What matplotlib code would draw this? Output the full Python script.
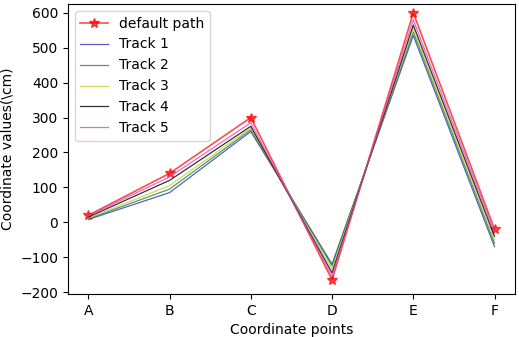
import matplotlib
matplotlib.use("Agg")
import matplotlib.pyplot as plt

points = ["A", "B", "C", "D", "E", "F"]
default_path = [20, 140, 300, -165, 600, -20]
track1 = [8, 85, 260, -120, 535, -70]
track2 = [10, 95, 265, -125, 545, -60]
track3 = [12, 105, 270, -135, 555, -50]
track4 = [15, 120, 275, -145, 565, -40]
track5 = [18, 130, 285, -155, 580, -30]

fig = plt.figure(figsize=(5.19, 3.37), dpi=100)
ax = fig.add_axes([0.131, 0.128, 0.861, 0.86])
x = list(range(len(points)))
ax.plot(x, default_path, color="red", marker="*", markersize=7, lw=1.2, alpha=0.7, label="default path")
ax.plot(x, track1, color="#3333bb", lw=0.9, alpha=0.8, label="Track 1")
ax.plot(x, track2, color="#228833", lw=0.9, alpha=0.8, label="Track 2")
ax.plot(x, track3, color="#cccc33", lw=0.9, alpha=0.8, label="Track 3")
ax.plot(x, track4, color="black", lw=0.9, alpha=0.8, label="Track 4")
ax.plot(x, track5, color="#dd44cc", lw=0.9, alpha=0.8, label="Track 5")
ax.set_xticks(x)
ax.set_xticklabels(points)
ax.set_xlim(-0.25, 5.25)
ax.set_ylim(-205, 625)
ax.set_yticks([-200, -100, 0, 100, 200, 300, 400, 500, 600])
ax.set_xlabel("Coordinate points")
ax.set_ylabel("Coordinate values(\\cm)")
ax.legend(loc="upper left")
fig.savefig("out.png", dpi=100)
